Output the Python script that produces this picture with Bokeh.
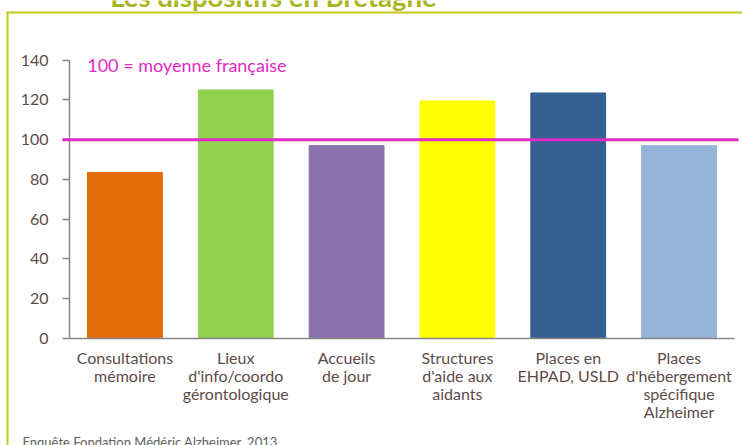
from bokeh.plotting import figure
from bokeh.models import FixedTicker, BoxAnnotation, Label, Range1d, ColumnDataSource
from bokeh.embed import file_html
from bokeh.resources import INLINE

# ---- data ----
categories = [
    "Consultations\nmémoire",
    "Lieux\nd'info/coordo\ngérontologique",
    "Accueils\nde jour",
    "Structures\nd'aide aux\naidants",
    "Places en\nEHPAD, USLD",
    "Places\nd'hébergement\nspécifique\nAlzheimer",
]
values = [83.5, 125, 97, 119.5, 123.5, 97]
colors = ["#e36c0a", "#92d050", "#8b72ac", "#ffff00", "#366092", "#95b3d7"]
y_ticks = [0, 20, 40, 60, 80, 100, 120, 140]
reference_value = 100
reference_label = "100 = moyenne française"
title_text = "Les dispositifs en Bretagne"
source_text = "Enquête Fondation Médéric Alzheimer, 2013"

FONT = "Lato"
TXT = "#5e4b4b"
PINK = "#e22bc6"
BORDER = "#c3c81e"

idx = list(range(len(categories)))
src = ColumnDataSource(dict(x=idx, top=values, color=colors))

# the plot frame covers the whole canvas; axes are pinned inside it
p = figure(width=742, height=445, x_range=Range1d(-1.1226, 5.5723), y_range=Range1d(-53.8, 170.0),
           output_backend="svg", toolbar_location=None, title=None,
           min_border_left=0, min_border_right=0, min_border_top=0, min_border_bottom=0)
p.outline_line_color = None
p.xgrid.visible = False
p.ygrid.visible = False
p.background_fill_color = "white"
p.border_fill_color = "white"

p.vbar(x="x", top="top", width=0.675, color="color", source=src)

# y axis
ya = p.yaxis[0]
ya.fixed_location = -0.5
ya.ticker = FixedTicker(ticks=y_ticks)
ya.bounds = (0, 140)
ya.axis_line_color = "#868686"
ya.axis_line_width = 1.5
ya.major_tick_line_color = "#868686"
ya.major_tick_line_width = 1.5
ya.major_tick_out = 7
ya.major_tick_in = 0
ya.minor_tick_line_color = None
ya.major_label_standoff = 14
ya.major_label_text_font = FONT
ya.major_label_text_font_size = "16px"
ya.major_label_text_color = TXT

# x axis
xa = p.xaxis[0]
xa.fixed_location = 0
xa.ticker = FixedTicker(ticks=idx)
xa.bounds = (-0.5, 5.5)
xa.major_label_overrides = {i: c for i, c in zip(idx, categories)}
xa.axis_line_color = "#868686"
xa.axis_line_width = 1.5
xa.major_tick_line_color = None
xa.minor_tick_line_color = None
xa.major_tick_out = 0
xa.major_tick_in = 0
xa.major_label_standoff = 9
xa.major_label_text_font = FONT
xa.major_label_text_font_size = "16px"
xa.major_label_text_line_height = 0.95
xa.major_label_text_color = TXT

# reference line (extends a little past the axes)
p.add_layout(BoxAnnotation(left=62, right=738, left_units="canvas", right_units="canvas",
                           bottom=reference_value - 0.75, top=reference_value + 0.75,
                           fill_color=PINK, fill_alpha=1, line_color=None))
p.add_layout(Label(x=-0.34, y=137.5, text=reference_label, text_color=PINK,
                   text_font=FONT, text_font_size="18px", text_baseline="middle"))

# slide frame lines
p.add_layout(BoxAnnotation(left=6, right=742, top=11, bottom=13,
                           left_units="canvas", right_units="canvas",
                           top_units="canvas", bottom_units="canvas",
                           fill_color=BORDER, fill_alpha=1, line_color=None))
p.add_layout(BoxAnnotation(left=6, right=8, top=11, bottom=445,
                           left_units="canvas", right_units="canvas",
                           top_units="canvas", bottom_units="canvas",
                           fill_color=BORDER, fill_alpha=1, line_color=None))

# slide title (cut off at top) and source
p.add_layout(Label(x=273, y=-4.5, x_units="canvas", y_units="canvas", text=title_text,
                   text_color="#a8b51c", text_font=FONT, text_font_style="bold",
                   text_font_size="27.5px", text_align="center", text_baseline="middle"))
p.add_layout(Label(x=22, y=433, x_units="canvas", y_units="canvas", text=source_text,
                   text_color="#606060", text_font=FONT, text_font_size="13px",
                   text_align="left", text_baseline="top"))

open("out.html", "w").write(file_html(p, INLINE))
